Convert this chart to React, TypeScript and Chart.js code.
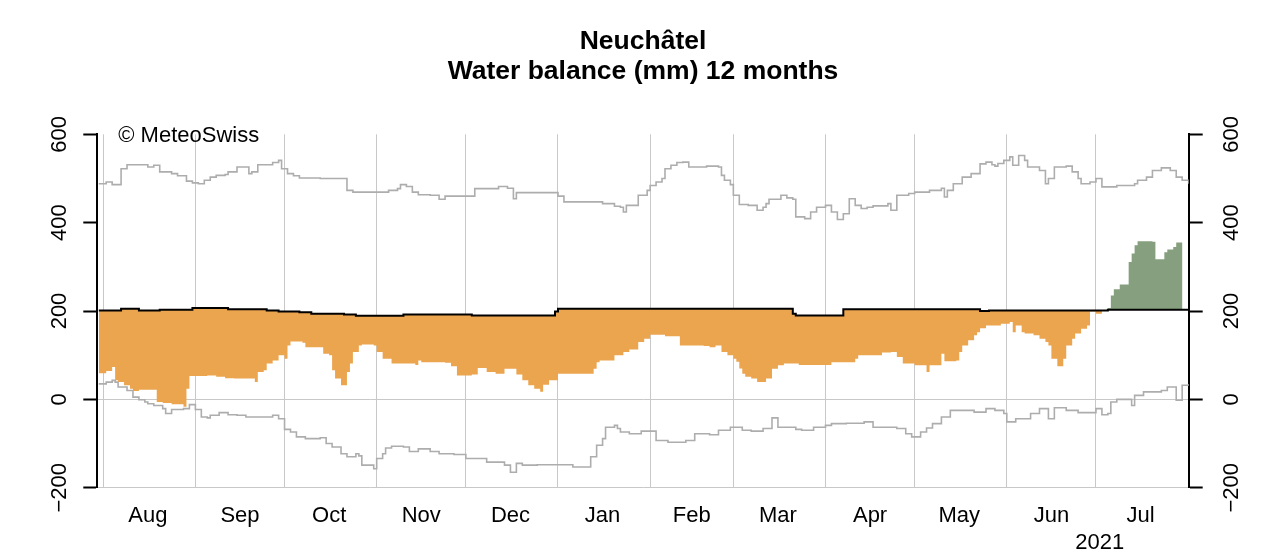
import React, { useEffect, useRef } from "react";
import { Chart, registerables } from "chart.js";

Chart.register(...registerables);

const FONT = '"Liberation Sans", Arial, Helvetica, sans-serif';

// ---- text ----
const titleLines = ["Neuchâtel", "Water balance (mm) 12 months"];
const creditText = "© MeteoSwiss";
const yearText = "2021";
const monthNames = ["Aug", "Sep", "Oct", "Nov", "Dec", "Jan", "Feb", "Mar", "Apr", "May", "Jun", "Jul"];
// day index counted from 1 Aug 2020
const monthStartDays = [0, 31, 61, 92, 122, 153, 184, 212, 243, 273, 304, 334];
const monthMidDays = [15, 46, 76, 107, 137, 168, 198, 227, 258, 288, 319, 349];
const yTickValues = [-200, 0, 200, 400, 600];
const yTickLabels = ["\u2212200", "0", "200", "400", "600"];

// ---- data: [day, value in mm], step changes ----
const normLine: [number, number][] = [
  [-1.5, 201], [6, 205], [12, 201], [19, 203], [30, 207], [42, 204], [55, 201], [59, 199],
  [66, 197], [70, 194], [81, 192], [85, 189], [101, 192], [124, 190], [152, 199], [153, 205],
  [232, 194], [233, 190], [249, 204], [295, 200], [298, 201], [338, 203], [365.2, 202],
];

const balanceLine: [number, number][] = [
  [-1.5, 59], [1, 64], [3, 73], [4, 43], [5, 39], [7, 32], [9, 24], [10, 19], [12, 22],
  [18, -6], [20, -8], [23, -11], [27, -17], [28, 24], [29, 53], [35, 54], [38, 51], [41, 48],
  [44, 47], [51, 39],
  [52, 62], [54, 66], [55, 81], [57, 88], [59, 100], [61, 92], [62, 122], [63, 131], [67, 128],
  [68, 118], [74, 103], [76, 100], [77, 66], [78, 47], [80, 32], [82, 62], [83, 81], [84, 107],
  [86, 122], [87, 124], [91, 122], [92, 107], [94, 92], [97, 81], [105, 78], [106, 88],
  [107, 84], [115, 83], [117, 75], [119, 54], [124, 56], [126, 71], [129, 62], [132, 58],
  [135, 69], [139, 56], [141, 43], [143, 32], [145, 24], [147, 17], [148, 33], [150, 43],
  [153, 58], [165, 69], [166, 84], [167, 88], [170, 88], [172, 100], [175, 107], [177, 113],
  [180, 130], [182, 137], [184, 146], [189, 143], [194, 122], [202, 121], [204, 118],
  [206, 122], [208, 107], [210, 100], [212, 92], [213, 85], [214, 70], [215, 58], [216, 51],
  [218, 47], [220, 39], [223, 47], [225, 69], [227, 77], [229, 81], [234, 78], [245, 84],
  [253, 92], [254, 100], [262, 106], [265, 107], [267, 96], [269, 81], [273, 77], [277, 62],
  [278, 77], [282, 103], [283, 86], [287, 88], [288, 107], [289, 122], [291, 134], [293, 145],
  [294, 152], [295, 161], [297, 167], [302, 171], [305, 175], [306, 152], [307, 167],
  [309, 152], [310, 149], [313, 145], [315, 137], [317, 130], [318, 122], [319, 92],
  [321, 75], [323, 92], [324, 122], [326, 137], [327, 149], [329, 160], [331, 167],
  [332, 199], [334, 194], [336, 201], [338, 207], [339, 235], [340, 249], [342, 260],
  [345, 311], [346, 330], [347, 349], [348, 358], [353, 357], [354, 317], [357, 333],
  [358, 339], [360, 345], [361, 355], [363.1, 355],
];

const upperLine: [number, number][] = [
  [-1.5, 488], [1, 492], [3, 486], [6, 522], [8, 531], [15, 526], [17, 530], [19, 515],
  [23, 511], [25, 506], [28, 494], [30, 490], [32, 488], [34, 496], [36, 503], [38, 507],
  [41, 509], [42, 515], [45, 526], [49, 511], [50, 515], [52, 531], [57, 536], [59, 541],
  [60, 522], [62, 511], [64, 506], [66, 501], [73, 500], [82, 473], [84, 469], [96, 473],
  [99, 477], [100, 486], [102, 482], [104, 469], [106, 463], [110, 462], [113, 453],
  [115, 460], [125, 477], [133, 482], [136, 478], [138, 454], [139, 468], [153, 460],
  [155, 447], [164, 447], [168, 443], [172, 437], [174, 435], [175, 424], [176, 439],
  [180, 462], [183, 473], [184, 484], [186, 492], [188, 500], [189, 522], [191, 530],
  [193, 536], [195, 537], [197, 526], [203, 528], [207, 526], [208, 507], [209, 496],
  [211, 486], [212, 462], [214, 441], [217, 439], [220, 428], [222, 435], [223, 443],
  [224, 453], [228, 462], [230, 456], [232, 453], [233, 413], [236, 409], [238, 424],
  [240, 435], [243, 439], [245, 424], [247, 407], [249, 420], [251, 454], [253, 439],
  [255, 432], [257, 435], [259, 438], [264, 443], [265, 428], [267, 462], [271, 466],
  [273, 469], [278, 473], [282, 478], [283, 458], [284, 473], [286, 488], [289, 503],
  [292, 511], [295, 533], [297, 537], [299, 531], [300, 528], [301, 534], [303, 541],
  [305, 549], [306, 530], [308, 552], [310, 541], [311, 526], [315, 518], [317, 488],
  [318, 500], [320, 526], [324, 528], [326, 515], [328, 500], [329, 488], [332, 492],
  [334, 500], [336, 481], [341, 484], [347, 488], [348, 496], [351, 503], [353, 518],
  [356, 524], [359, 518], [361, 503], [363, 496], [365.2, 488],
];

const lowerLine: [number, number][] = [
  [-1.5, 35], [1, 39], [3, 43], [4, 39], [5, 28], [8, 20], [10, 5], [12, -1], [14, -6],
  [15, -10], [17, -14], [20, -21], [21, -32], [23, -23], [27, -21], [29, -12], [31, -23],
  [33, -40], [35, -42], [36, -36],
  [39, -30], [42, -35], [45, -36], [48, -40], [57, -36], [59, -44], [61, -68], [63, -74],
  [65, -85], [68, -89], [73, -87], [75, -100], [77, -108], [80, -123], [82, -130], [85, -123],
  [86, -128], [87, -149], [91, -157], [92, -134], [94, -123], [95, -110], [97, -106],
  [101, -108], [103, -118], [106, -112], [110, -118], [113, -123], [118, -125], [122, -134],
  [129, -142], [135, -149], [137, -165], [139, -145], [141, -149], [146, -148], [158, -153],
  [164, -130], [166, -104], [168, -89], [169, -63], [172, -59], [173, -66], [174, -74],
  [177, -78], [181, -72], [186, -93], [190, -97], [196, -93], [199, -78], [204, -80],
  [207, -70], [211, -63], [215, -70], [218, -72], [222, -66], [225, -42], [227, -63],
  [233, -68], [235, -70], [239, -63], [243, -59], [245, -55], [250, -54], [256, -51],
  [259, -63], [267, -66], [270, -78], [272, -85], [275, -74], [277, -65], [279, -55],
  [282, -40], [285, -25], [293, -29], [297, -21], [300, -25], [303, -32], [304, -51],
  [307, -44], [312, -32], [315, -21], [318, -44], [320, -19], [324, -25], [328, -30],
  [334, -21], [336, -35], [338, -32], [339, -6], [341, 0], [346, -14], [347, 9], [350, 17],
  [356, 20], [358, 28], [361, -2], [363, 32], [365.2, 35],
];

const toXY = (arr: [number, number][]) => arr.map(([x, y]) => ({ x, y }));

const textPlugin = {
  id: "textPlugin",
  afterDraw(chart: any) {
    const { ctx, chartArea, scales } = chart;
    ctx.save();
    ctx.fillStyle = "#000";
    const cx = (chartArea.left + chartArea.right) / 2;
    ctx.textBaseline = "alphabetic";
    ctx.textAlign = "center";
    ctx.font = `bold 26.5px ${FONT}`;
    ctx.fillText(titleLines[0], cx, 49.3);
    ctx.fillText(titleLines[1], cx, 79);

    ctx.font = `22px ${FONT}`;
    ctx.textAlign = "left";
    ctx.fillText(creditText, chartArea.left + 21, 141.7);

    const ys = scales.y;
    yTickValues.forEach((v, i) => {
      const py = ys.getPixelForValue(v);
      [chartArea.left - 31.3, chartArea.right + 49.6].forEach((bx) => {
        ctx.save();
        ctx.translate(bx, py);
        ctx.rotate(-Math.PI / 2);
        ctx.textAlign = "center";
        ctx.fillText(yTickLabels[i], 0, 0);
        ctx.restore();
      });
    });

    ctx.textAlign = "center";
    ctx.fillText(yearText, scales.x.getPixelForValue(335.3), 549);
    ctx.restore();
  },
};

export default function App() {
  const canvasRef = useRef<HTMLCanvasElement | null>(null);

  useEffect(() => {
    if (!canvasRef.current) return;
    const startSet = new Set(monthStartDays);
    const chart = new Chart(canvasRef.current, {
      type: "line",
      data: {
        datasets: [
          {
            label: "norm",
            data: toXY(normLine),
            borderColor: "#000000",
            borderWidth: 2,
            stepped: true,
            pointRadius: 0,
            fill: false,
          },
          {
            label: "balance",
            data: toXY(balanceLine),
            borderColor: "rgba(0,0,0,0)",
            borderWidth: 0,
            stepped: true,
            pointRadius: 0,
            fill: { target: 0, above: "#86A07F", below: "#EBA54F" },
          },
          {
            label: "upper",
            data: toXY(upperLine),
            borderColor: "#ADADAD",
            borderWidth: 1.6,
            stepped: true,
            pointRadius: 0,
            fill: false,
          },
          {
            label: "lower",
            data: toXY(lowerLine),
            borderColor: "#ADADAD",
            borderWidth: 1.6,
            stepped: true,
            pointRadius: 0,
            fill: false,
          },
        ],
      },
      options: {
        animation: false,
        responsive: true,
        maintainAspectRatio: false,
        events: [],
        layout: { padding: { top: 134.3, bottom: 0, left: 0, right: 0 }, autoPadding: false },
        plugins: { legend: { display: false }, tooltip: { enabled: false }, title: { display: false } },
        scales: {
          x: {
            type: "linear",
            position: "bottom",
            min: -2,
            max: 365.2,
            afterBuildTicks: (s: any) => {
              s.ticks = [...monthStartDays, ...monthMidDays].sort((a, b) => a - b).map((v) => ({ value: v }));
            },
            afterFit: (s: any) => {
              s.height = 550 - 487.7;
            },
            ticks: {
              autoSkip: false,
              minRotation: 0,
              maxRotation: 0,
              padding: 15,
              color: "#000",
              font: { family: FONT, size: 22 },
              callback: (v: any) => {
                const i = monthMidDays.indexOf(Number(v));
                return i >= 0 ? monthNames[i] : "";
              },
            },
            grid: {
              drawTicks: false,
              lineWidth: 1,
              color: (c: any) => (c.tick && startSet.has(c.tick.value) ? "#C8C8C8" : "rgba(0,0,0,0)"),
            },
            border: { display: false },
          },
          y: {
            type: "linear",
            position: "left",
            min: -200,
            max: 600,
            afterBuildTicks: (s: any) => {
              s.ticks = yTickValues.map((v) => ({ value: v }));
            },
            afterFit: (s: any) => {
              s.width = 97.3;
            },
            ticks: { display: false },
            grid: {
              drawTicks: true,
              tickLength: 14,
              tickWidth: 2,
              tickColor: "#000",
              lineWidth: 1,
              color: (c: any) => (c.tick && (c.tick.value === 0 || c.tick.value === -200) ? "#C8C8C8" : "rgba(0,0,0,0)"),
            },
            border: { display: true, color: "#000", width: 2 },
          },
          y2: {
            type: "linear",
            position: "right",
            min: -200,
            max: 600,
            afterBuildTicks: (s: any) => {
              s.ticks = yTickValues.map((v) => ({ value: v }));
            },
            afterFit: (s: any) => {
              s.width = 1280 - 1188.7;
            },
            ticks: { display: false },
            grid: {
              drawOnChartArea: false,
              drawTicks: true,
              tickLength: 14,
              tickWidth: 2,
              tickColor: "#000",
            },
            border: { display: true, color: "#000", width: 2 },
          },
        },
      } as any,
      plugins: [textPlugin],
    });
    return () => chart.destroy();
  }, []);

  return (
    <div style={{ position: "absolute", left: 0, top: 0, width: 1280, height: 550, background: "#fff" }}>
      <canvas ref={canvasRef} />
    </div>
  );
}
